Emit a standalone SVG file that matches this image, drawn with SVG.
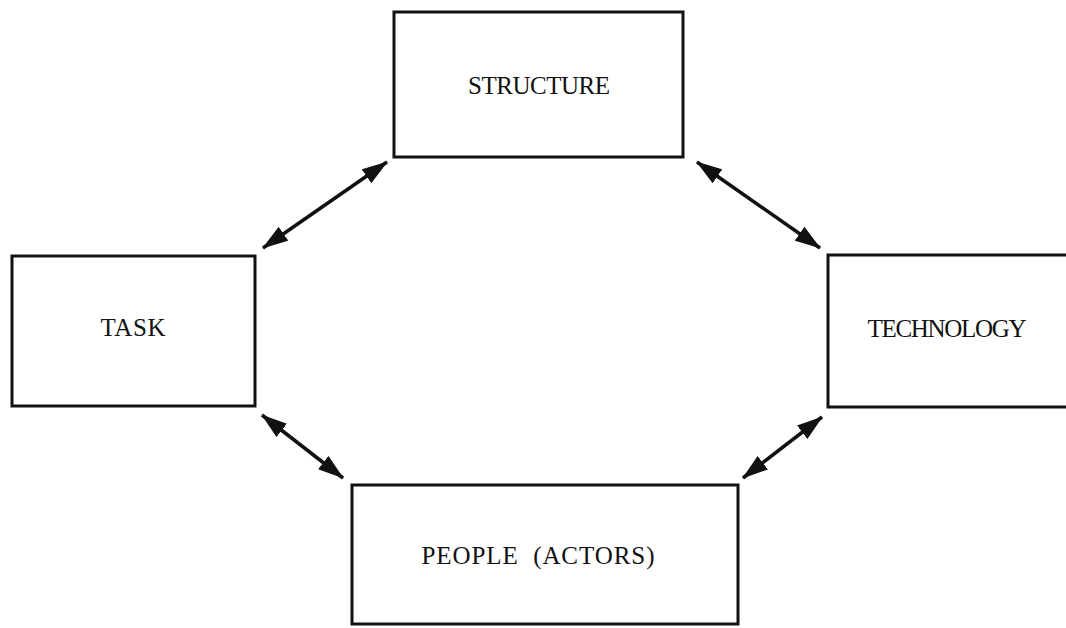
<svg xmlns="http://www.w3.org/2000/svg" width="1066" height="628" viewBox="0 0 1066 628">
<style>
.box{fill:#fff;stroke:#111;stroke-width:3}
.lbl{font-family:"Liberation Serif","DejaVu Serif",serif;font-size:25px;fill:#111;text-anchor:middle}
.conn{stroke:#111;stroke-width:3.5;fill:none;marker-start:url(#ah);marker-end:url(#ah)}
</style>
<defs>
<marker id="ah" markerUnits="userSpaceOnUse" markerWidth="26" markerHeight="18" refX="25" refY="8.5" orient="auto-start-reverse" viewBox="0 0 26 17">
<path d="M0,0 L26,8.5 L0,17 Z" fill="#111"/>
</marker>
</defs>
<rect width="1066" height="628" fill="#fff"/>
<g id="structure">
<rect class="box" x="394" y="12" width="289" height="145"/>
<text class="lbl" x="539" y="94" textLength="142">STRUCTURE</text>
</g>
<g id="task">
<rect class="box" x="12" y="256" width="243" height="150"/>
<text class="lbl" x="133" y="336" textLength="65">TASK</text>
</g>
<g id="technology">
<rect class="box" x="828" y="255" width="245" height="152"/>
<text class="lbl" x="947" y="337" textLength="159">TECHNOLOGY</text>
</g>
<g id="people">
<rect class="box" x="352" y="485" width="386" height="139"/>
<text class="lbl" x="538" y="564" textLength="233" xml:space="preserve">PEOPLE  (ACTORS)</text>
</g>
<g id="connectors">
<line class="conn" x1="387" y1="162" x2="263" y2="248"/>
<line class="conn" x1="697" y1="162" x2="820" y2="248"/>
<line class="conn" x1="262" y1="415" x2="343" y2="478"/>
<line class="conn" x1="822" y1="417" x2="743" y2="478"/>
</g>
</svg>
